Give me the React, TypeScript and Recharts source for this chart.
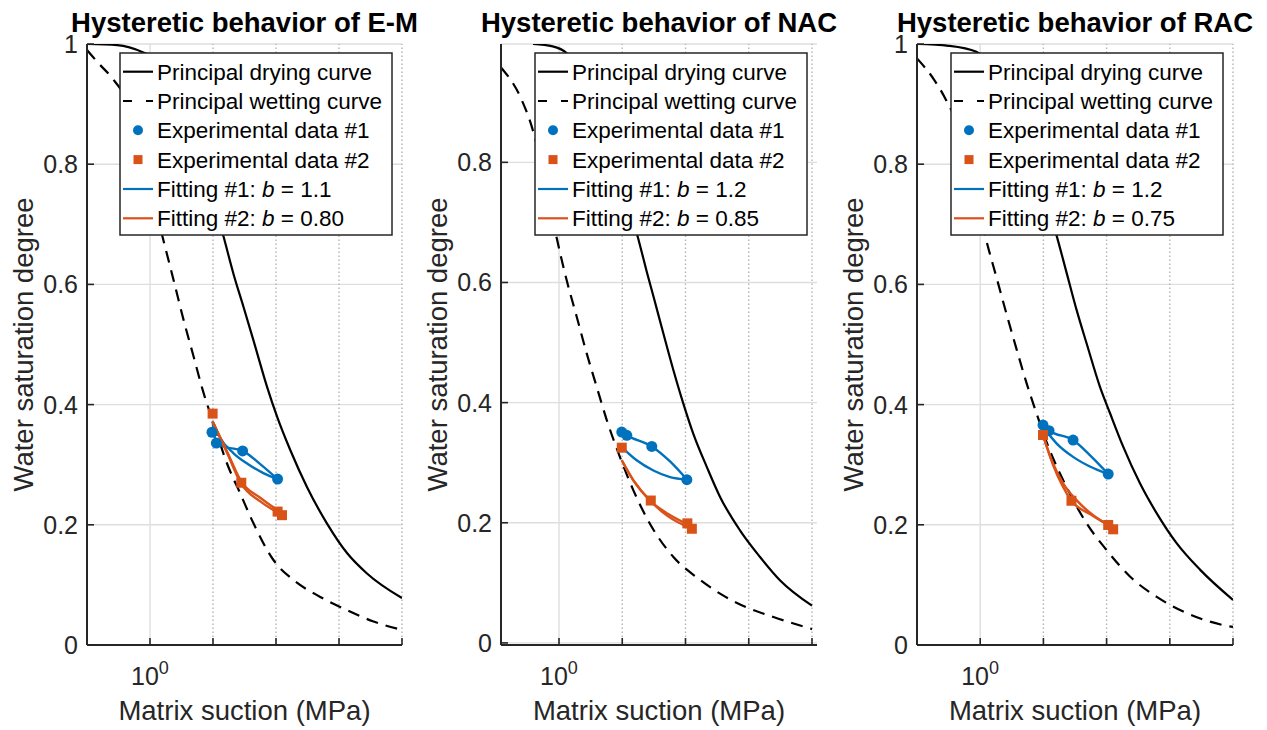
import React from 'react';
import { ComposedChart, Line, Scatter, XAxis, YAxis, CartesianGrid, ReferenceLine } from 'recharts';

const FONT = '"Liberation Sans", Arial, Helvetica, sans-serif';
const BLUE = '#0072BD';
const ORANGE = '#D95319';
const AX = '#262626';
const GRID = '#dedede';
const MINOR = '#b4b4b4';

const W = 1267;
const H = 730;
const TOP = 44;
const BOTTOM = 645;
const YW = 10;
const XH = 40;

// x ticks (suction, MPa) and y ticks
const xTicks = [1, 10, 100, 1000, 10000];
const minorGrid = [10, 100, 1000, 10000];
const yTicksFull = [0, 0.2, 0.4, 0.6, 0.8, 1];
const yTicksNac = [0, 0.2, 0.4, 0.6, 0.8];

// ---------- E-M ----------
const emDrying = [[0.1, 1.0], [0.302, 0.998], [0.783, 0.986], [1.26, 0.975], [2.0, 0.945], [3.98, 0.88], [7.94, 0.78], [15.1, 0.675], [21.2, 0.617], [30.6, 0.562], [44.1, 0.506], [71.9, 0.43], [104, 0.38], [169, 0.324], [310, 0.263], [646, 0.202], [1340, 0.153], [2780, 0.119], [10000, 0.078]];
const emWetting = [[0.1, 0.99], [0.146, 0.97], [0.252, 0.943], [0.398, 0.912], [0.631, 0.85], [1.0, 0.765], [1.585, 0.679], [2.37, 0.607], [3.41, 0.541], [4.92, 0.48], [7.1, 0.419], [10.2, 0.369], [16.7, 0.302], [27.1, 0.252], [44.1, 0.202], [91.6, 0.141], [190, 0.108], [504, 0.08], [1340, 0.058], [3540, 0.039], [10000, 0.025]];
const emExp1 = [[9.64, 0.354], [11.3, 0.336], [29.5, 0.323], [106, 0.276]];
const emExp2 = [[9.86, 0.385], [28.1, 0.27], [106, 0.222], [124.5, 0.216]];
const emFit1Dry = [[9.86, 0.372], [11.3, 0.336], [16.7, 0.329], [29.5, 0.323], [56.2, 0.301], [106, 0.276]];
const emFit1Wet = [[9.86, 0.372], [13.1, 0.344], [21.2, 0.319], [34.7, 0.302], [63.1, 0.286], [106, 0.276]];
const emFit2Dry = [[9.86, 0.372], [16.7, 0.322], [28.1, 0.272], [56.2, 0.245], [117.5, 0.221]];
const emFit2Wet = [[9.86, 0.372], [16.7, 0.32], [28.1, 0.268], [56.2, 0.239], [117.5, 0.218]];

// ---------- NAC ----------
const nacDrying = [[0.389, 0.997], [0.794, 0.993], [1.32, 0.982], [2.51, 0.94], [5.01, 0.865], [10, 0.765], [18.0, 0.672], [24.4, 0.618], [31.1, 0.577], [44.7, 0.515], [64.4, 0.454], [92.7, 0.398], [133, 0.348], [217, 0.293], [352, 0.243], [731, 0.187], [1510, 0.143], [3140, 0.104], [10000, 0.062]];
const nacWetting = [[0.121, 0.958], [0.257, 0.904], [0.372, 0.859], [0.562, 0.785], [0.92, 0.674], [1.32, 0.604], [1.905, 0.543], [2.74, 0.482], [3.95, 0.426], [5.69, 0.371], [9.23, 0.309], [15.0, 0.254], [27.5, 0.198], [64.4, 0.143], [151, 0.109], [352, 0.082], [933, 0.059], [2460, 0.043], [10000, 0.023]];
const nacExp1 = [[9.82, 0.351], [11.8, 0.3455], [29.3, 0.327], [105, 0.2717]];
const nacExp2 = [[9.82, 0.325], [28.25, 0.237], [107, 0.199], [126, 0.19]];
const nacFit1Dry = [[9.82, 0.351], [11.8, 0.3455], [29.3, 0.327], [57, 0.302], [105, 0.272]];
const nacFit1Wet = [[9.82, 0.326], [16.9, 0.304], [31.1, 0.287], [57, 0.276], [105, 0.272]];
const nacFit2Dry = [[9.82, 0.304], [15.0, 0.2705], [27.5, 0.237], [52.5, 0.215], [105, 0.198]];
const nacFit2Wet = [[9.82, 0.304], [15.0, 0.2705], [27.5, 0.237], [52.5, 0.211], [120, 0.191]];

// ---------- RAC ----------
const racDrying = [[0.1, 1.0], [0.316, 0.997], [0.871, 0.987], [2.0, 0.948], [3.98, 0.885], [7.94, 0.785], [16.1, 0.682], [23.2, 0.62], [33.4, 0.558], [48.2, 0.502], [78.3, 0.43], [113, 0.386], [183, 0.33], [337, 0.269], [622, 0.219], [1290, 0.169], [3030, 0.125], [10000, 0.075]];
const racWetting = [[0.1, 0.976], [0.188, 0.94], [0.288, 0.907], [0.501, 0.85], [0.794, 0.765], [1.245, 0.674], [1.795, 0.613], [2.59, 0.552], [3.72, 0.494], [5.37, 0.437], [7.75, 0.386], [12.6, 0.324], [23.2, 0.263], [48.2, 0.2025], [100, 0.158], [234, 0.114], [622, 0.08], [1860, 0.053], [7080, 0.033], [10000, 0.03]];
const racExp1 = [[9.86, 0.366], [12.3, 0.3566], [29.5, 0.341], [106, 0.2845]];
const racExp2 = [[9.86, 0.3494], [27.8, 0.24], [106, 0.1997], [127, 0.1925]];
const racFit1Dry = [[9.86, 0.366], [12.3, 0.357], [29.5, 0.341], [54.3, 0.316], [106, 0.2845]];
const racFit1Wet = [[9.86, 0.363], [16.1, 0.3356], [29.5, 0.313], [54.3, 0.297], [106, 0.2845]];
const racFit2Dry = [[9.86, 0.349], [14.2, 0.302], [20.5, 0.269], [33.4, 0.241], [61.2, 0.216], [106, 0.1997]];
const racFit2Wet = [[9.86, 0.349], [14.2, 0.3], [20.0, 0.265], [27.8, 0.24], [56.2, 0.217], [106, 0.1997]];

// legend labels, titles
const legendLabels = ['Principal drying curve', 'Principal wetting curve', 'Experimental data #1', 'Experimental data #2'];
const bValues1 = ['1.1', '1.2', '1.2'];
const bValues2 = ['0.80', '0.85', '0.75'];
const titles = ['Hysteretic behavior of E-M', 'Hysteretic behavior of NAC', 'Hysteretic behavior of RAC'];

const toPts = (a: number[][]) => a.map(([x, y]) => ({ x, y }));

interface PanelCfg {
  title: string;
  left: number;
  right: number;
  xDomain: [number, number];
  yDomain: [number, number];
  yTicks: number[];
  drying: number[][];
  wetting: number[][];
  exp1: number[][];
  exp2: number[][];
  fit1Dry: number[][];
  fit1Wet: number[][];
  fit2Dry: number[][];
  fit2Wet: number[][];
  b1: string;
  b2: string;
}

const panels: PanelCfg[] = [
  { title: titles[0], left: 87, right: 402, xDomain: [0.1, 10000], yDomain: [0, 1], yTicks: yTicksFull, drying: emDrying, wetting: emWetting, exp1: emExp1, exp2: emExp2, fit1Dry: emFit1Dry, fit1Wet: emFit1Wet, fit2Dry: emFit2Dry, fit2Wet: emFit2Wet, b1: bValues1[0], b2: bValues2[0] },
  { title: titles[1], left: 501, right: 817, xDomain: [0.121, 12000], yDomain: [-0.0035, 0.997], yTicks: yTicksNac, drying: nacDrying, wetting: nacWetting, exp1: nacExp1, exp2: nacExp2, fit1Dry: nacFit1Dry, fit1Wet: nacFit1Wet, fit2Dry: nacFit2Dry, fit2Wet: nacFit2Wet, b1: bValues1[1], b2: bValues2[1] },
  { title: titles[2], left: 917, right: 1233, xDomain: [0.1, 10000], yDomain: [0, 1], yTicks: yTicksFull, drying: racDrying, wetting: racWetting, exp1: racExp1, exp2: racExp2, fit1Dry: racFit1Dry, fit1Wet: racFit1Wet, fit2Dry: racFit2Dry, fit2Wet: racFit2Wet, b1: bValues1[2], b2: bValues2[2] },
];

const XTick = (props: any) => {
  const { x, y, payload } = props;
  return (
    <g>
      <line x1={x} x2={x} y1={y} y2={y - 7} stroke={AX} strokeWidth={1.6} />
      {payload.value === 1 && (
        <text x={x - 19} y={y + 40} fontSize={25} fill={AX} fontFamily={FONT}>
          10<tspan dy={-11} fontSize={18}>0</tspan>
        </text>
      )}
    </g>
  );
};

const fmtY = (v: number) => (v === 0 ? '0' : v === 1 ? '1' : String(Math.round(v * 10) / 10));

const YTick = (props: any) => {
  const { x, y, payload } = props;
  return (
    <g>
      <line x1={x} x2={x + 7} y1={y} y2={y} stroke={AX} strokeWidth={1.6} />
      <text x={x - 9} y={y + 9} textAnchor="end" fontSize={25} fill={AX} fontFamily={FONT}>
        {fmtY(payload.value)}
      </text>
    </g>
  );
};

const circleShape = (props: any) => <circle cx={props.cx} cy={props.cy} r={5.5} fill={BLUE} />;
const squareShape = (props: any) => <rect x={props.cx - 5} y={props.cy - 5} width={10} height={10} fill={ORANGE} />;

function Decor({ c }: { c: PanelCfg }) {
  const cx = (c.left + c.right) / 2;
  const lx = c.right - 282;
  const ly = 53;
  const rows = [18.7, 48, 77.3, 106.6, 136, 165.3].map((r) => ly + r);
  const tx = lx + 37;
  const fs = 22.5;
  const cy = (TOP + BOTTOM) / 2;
  return (
    <g fontFamily={FONT}>
      <text x={cx} y={32} textAnchor="middle" fontSize={27.5} fontWeight="bold" fill="#000">
        {c.title}
      </text>
      <text x={cx} y={720} textAnchor="middle" fontSize={27.5} fill={AX}>
        Matrix suction (MPa)
      </text>
      <text x={c.left - 54} y={cy} textAnchor="middle" fontSize={27.5} fill={AX}
        transform={`rotate(-90, ${c.left - 54}, ${cy})`}>
        Water saturation degree
      </text>
      <rect x={lx} y={ly} width={272} height={182} fill="#fff" stroke={AX} strokeWidth={1.5} />
      <line x1={lx + 3} x2={lx + 33} y1={rows[0]} y2={rows[0]} stroke="#000" strokeWidth={2.2} />
      <line x1={lx + 3} x2={lx + 33} y1={rows[1]} y2={rows[1]} stroke="#000" strokeWidth={2.2} strokeDasharray="9 14" />
      <circle cx={lx + 18} cy={rows[2]} r={5} fill={BLUE} />
      <rect x={lx + 13.5} y={rows[3] - 4.5} width={9} height={9} fill={ORANGE} />
      <line x1={lx + 3} x2={lx + 33} y1={rows[4]} y2={rows[4]} stroke={BLUE} strokeWidth={2.2} />
      <line x1={lx + 3} x2={lx + 33} y1={rows[5]} y2={rows[5]} stroke={ORANGE} strokeWidth={2.2} />
      {legendLabels.map((t, i) => (
        <text key={t} x={tx} y={rows[i] + 8} fontSize={fs} fill="#000">{t}</text>
      ))}
      <text x={tx} y={rows[4] + 8} fontSize={fs} fill="#000">
        Fitting #1: <tspan fontStyle="italic">b</tspan> = {c.b1}
      </text>
      <text x={tx} y={rows[5] + 8} fontSize={fs} fill="#000">
        Fitting #2: <tspan fontStyle="italic">b</tspan> = {c.b2}
      </text>
    </g>
  );
}

function Panel({ c }: { c: PanelCfg }) {
  const lineCommon = { dataKey: 'y', dot: false, activeDot: false, isAnimationActive: false } as any;
  return (
    <div style={{ position: 'absolute', left: 0, top: 0 }}>
      <ComposedChart width={W} height={H} margin={{ top: TOP, right: W - c.right, bottom: H - BOTTOM - XH, left: c.left - YW }}>
        <CartesianGrid vertical={false} stroke={GRID} strokeWidth={1.4} />
        <ReferenceLine x={1} stroke={GRID} strokeWidth={1.4} />
        {minorGrid.map((v) => (
          <ReferenceLine key={v} x={v} stroke={MINOR} strokeWidth={1.4} strokeDasharray="1.4 2.6" />
        ))}
        <XAxis dataKey="x" type="number" scale="log" domain={c.xDomain} allowDataOverflow ticks={xTicks} interval={0}
          tickLine={false} tickSize={0} tickMargin={0} height={XH} axisLine={{ stroke: AX, strokeWidth: 2 }} tick={<XTick />} />
        <YAxis type="number" domain={c.yDomain} allowDataOverflow ticks={c.yTicks} interval={0} width={YW}
          tickLine={false} tickSize={0} tickMargin={0} axisLine={{ stroke: AX, strokeWidth: 2 }} tick={<YTick />} />
        <Line {...lineCommon} data={toPts(c.drying)} type="monotone" stroke="#000" strokeWidth={2.2} />
        <Line {...lineCommon} data={toPts(c.wetting)} type="monotone" stroke="#000" strokeWidth={2.2} strokeDasharray="12 8" />
        <Line {...lineCommon} data={toPts(c.fit1Dry)} type="monotone" stroke={BLUE} strokeWidth={2.4} />
        <Line {...lineCommon} data={toPts(c.fit1Wet)} type="monotone" stroke={BLUE} strokeWidth={2.4} />
        <Line {...lineCommon} data={toPts(c.fit2Dry)} type="monotone" stroke={ORANGE} strokeWidth={2.4} />
        <Line {...lineCommon} data={toPts(c.fit2Wet)} type="monotone" stroke={ORANGE} strokeWidth={2.4} />
        <Scatter data={toPts(c.exp1)} dataKey="y" shape={circleShape} isAnimationActive={false} />
        <Scatter data={toPts(c.exp2)} dataKey="y" shape={squareShape} isAnimationActive={false} />
      </ComposedChart>
    </div>
  );
}

export default function App() {
  return (
    <div style={{ position: 'absolute', left: 0, top: 0, width: W, height: H, background: '#fff', overflow: 'hidden' }}>
      {panels.map((c) => (
        <Panel key={c.title} c={c} />
      ))}
      <svg width={W} height={H} style={{ position: 'absolute', left: 0, top: 0, pointerEvents: 'none' }}>
        {panels.map((c) => (
          <Decor key={c.title} c={c} />
        ))}
      </svg>
    </div>
  );
}
